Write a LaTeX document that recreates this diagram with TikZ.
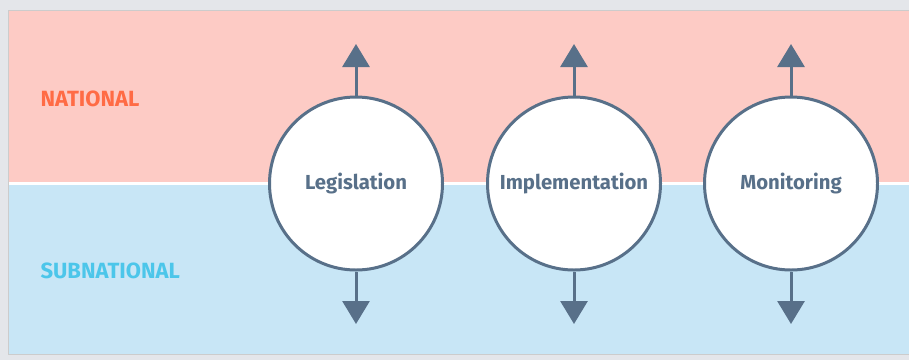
\documentclass[tikz,border=0pt]{standalone}
\usepackage{fontspec}
\setmainfont{Fira Sans}
\usetikzlibrary{arrows.meta}
\definecolor{bgout}{HTML}{E4E6EA}
\definecolor{pinkband}{HTML}{FDCBC5}
\definecolor{blueband}{HTML}{C8E6F6}
\definecolor{slate}{HTML}{587089}
\definecolor{natc}{HTML}{FF6B45}
\definecolor{subc}{HTML}{4CC6EA}
\tikzset{
  stage/.style={circle, draw=slate, line width=3pt, fill=white, minimum size=173pt, inner sep=0pt,
    font=\fontsize{20.3}{24}\selectfont\bfseries, text=slate},
  flow/.style={draw=slate, line width=3pt, -{Triangle[width=27pt,length=23pt]}},
  bandlabel/.style={anchor=west, font=\fontsize{22}{26}\selectfont\bfseries}
}
\begin{document}
\begin{tikzpicture}[x=1pt,y=-1pt]
\useasboundingbox (0,0) rectangle (909,360);
\fill[bgout] (0,0) rectangle (909,360);
\fill[pinkband] (8,10) rectangle (909,182);
\fill[white] (8,182) rectangle (909,185);
\fill[blueband] (8,185) rectangle (909,354);
\draw[black!20, line width=0.8pt] (909,10) -- (8,10) -- (8,354) -- (909,354);
\node[bandlabel, text=natc] (nat) at (37,99) {NATIONAL};
\node[bandlabel, text=subc] (sub) at (37,271) {SUBNATIONAL};
\foreach \name/\x/\lab in {leg/356/Legislation, imp/574/Implementation, mon/791/Monitoring}{
  \node[stage] (\name) at (\x,183.5) {\lab};
  \coordinate (\name up) at (\x,44);
  \coordinate (\name dn) at (\x,324);
  \draw[flow] (\name.north) -- (\name up);
  \draw[flow] (\name.south) -- (\name dn);
}
\end{tikzpicture}
\end{document}
